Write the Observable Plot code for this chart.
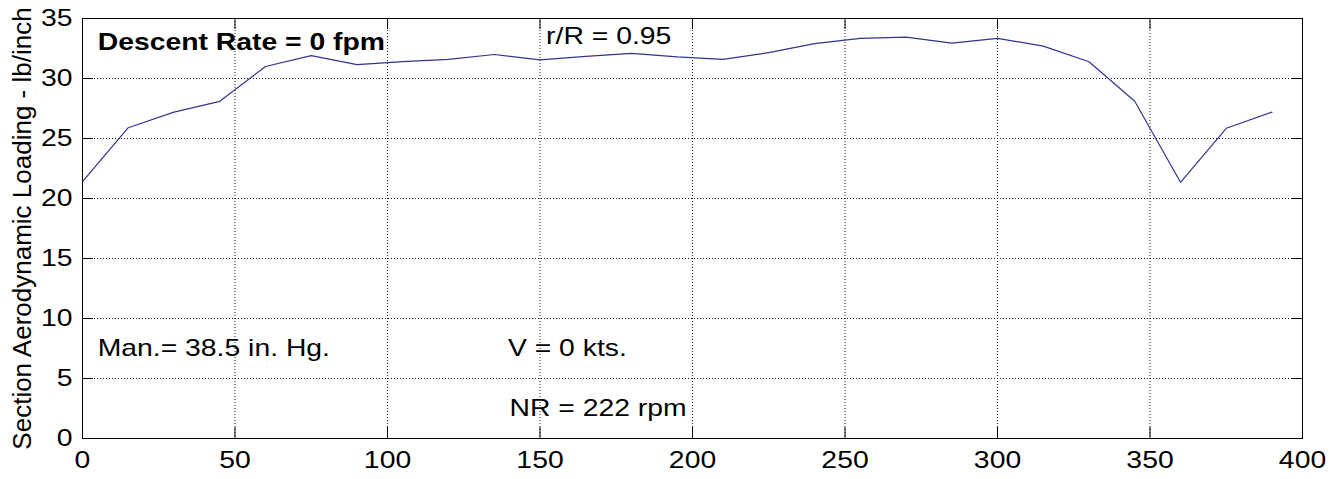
<!DOCTYPE html>
<html>
<head>
<meta charset="utf-8">
<script src="https://cdn.jsdelivr.net/npm/d3@7"></script>
<script src="https://cdn.jsdelivr.net/npm/@observablehq/plot@0.6"></script>
<style>
  html, body { margin: 0; padding: 0; background: #fff; }
  svg { display: block; }
</style>
</head>
<body>
<div id="chart"></div>
<script>
// Azimuth (deg) and section aerodynamic loading (lb/inch)
const azimuth = [0, 15, 30, 45, 60, 75, 90, 105, 120, 135, 150, 165, 180, 195, 210,
                 225, 240, 255, 270, 285, 300, 315, 330, 345, 360, 375, 390];
const loading = [21.4, 25.9, 27.2, 28.1, 31.0, 31.9, 31.15, 31.4, 31.6, 32.0, 31.55, 31.85, 32.1, 31.8, 31.6,
                 32.15, 32.9, 33.35, 33.45, 32.95, 33.35, 32.7, 31.4, 28.1, 21.35, 25.85, 27.2];

const xTicks = [0, 50, 100, 150, 200, 250, 300, 350, 400];
const yTicks = [0, 5, 10, 15, 20, 25, 30, 35];

const yLabel = "Section Aerodynamic Loading - lb/inch";

// annotation texts placed in data coordinates (left-aligned)
const boldNotes = [{text: "Descent Rate = 0 fpm", x: 5, y: 33.0}];
const plainNotes = [
  {text: "r/R = 0.95", x: 152, y: 33.5},
  {text: "Man.= 38.5 in. Hg.", x: 5, y: 7.5},
  {text: "V = 0 kts.", x: 139.5, y: 7.5},
  {text: "NR = 222 rpm", x: 140, y: 2.5}
];

const series = azimuth.map((a, i) => ({a, v: loading[i]}));

const W = 1342, H = 479;
const mL = 82, mR = 40, mT = 18, mB = 41;
const innerW = W - mL - mR, innerH = H - mT - mB;
const TICK = 11;
const gridStyle = {stroke: "#000", strokeOpacity: 0.9, strokeDasharray: "1,2", strokeWidth: 1};
const font = "'Liberation Sans', Arial, Helvetica, sans-serif";

const chart = Plot.plot({
  width: W, height: H,
  marginLeft: mL, marginRight: mR, marginTop: mT, marginBottom: mB,
  style: {fontFamily: font, background: "#fff", color: "#000"},
  x: {domain: [0, 400], ticks: xTicks},
  y: {domain: [0, 35], ticks: yTicks},
  marks: [
    Plot.gridX(xTicks.slice(1, -1), gridStyle),
    Plot.gridY(yTicks.slice(1, -1), gridStyle),
    Plot.tickX(xTicks, {x: d => d, stroke: "#000", insetTop: innerH - TICK}),
    Plot.tickX(xTicks, {x: d => d, stroke: "#000", insetBottom: innerH - TICK}),
    Plot.tickY(yTicks, {y: d => d, stroke: "#000", insetRight: innerW - TICK}),
    Plot.tickY(yTicks, {y: d => d, stroke: "#000", insetLeft: innerW - TICK}),
    Plot.axisX(xTicks, {tickSize: 0, tickPadding: 12, fontSize: 24, label: null, fill: "#000"}),
    Plot.axisY(yTicks, {tickSize: 0, tickPadding: 10, fontSize: 24, label: null, fill: "#000"}),
    Plot.line(series, {x: "a", y: "v", stroke: "#34348c", strokeWidth: 1.2}),
    Plot.text(boldNotes, {x: "x", y: "y", text: "text", textAnchor: "start", fontSize: 24, fontWeight: "bold", fill: "#000"}),
    Plot.text(plainNotes, {x: "x", y: "y", text: "text", textAnchor: "start", fontSize: 24, fill: "#000"}),
    Plot.text([yLabel], {frameAnchor: "left", text: d => d, rotate: -90, textAnchor: "middle", lineAnchor: "middle", dx: -60, fontSize: 26, fill: "#000"}),
    Plot.frame({stroke: "#000", strokeWidth: 1})
  ]
});

document.getElementById("chart").append(chart);

// the reference is horizontally stretched: widen horizontal texts (not the rotated axis label)
chart.querySelectorAll("text").forEach(t => {
  if (t.textContent === yLabel) return;
  const len = t.getComputedTextLength();
  if (len > 0) {
    t.setAttribute("textLength", (len * 1.18).toFixed(1));
    t.setAttribute("lengthAdjust", "spacingAndGlyphs");
  }
});
</script>
</body>
</html>
